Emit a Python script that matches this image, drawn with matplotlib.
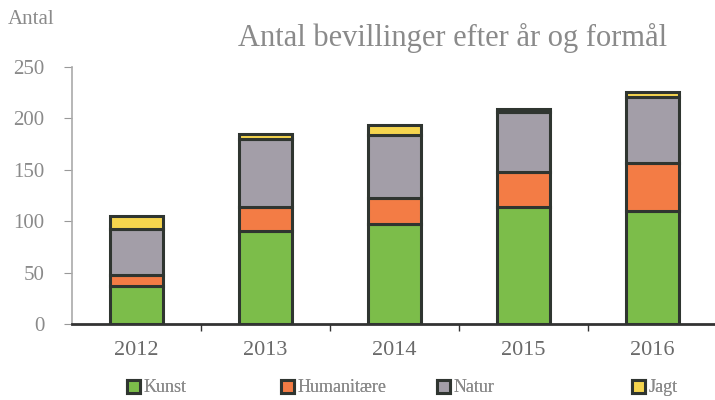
import matplotlib
matplotlib.use("Agg")
import matplotlib.pyplot as plt
import numpy as np

years = ["2012", "2013", "2014", "2015", "2016"]
kunst = [37, 90, 97, 114, 110]
humanitaere = [11, 24, 26, 34, 47]
natur = [44, 66, 61, 58, 64]
jagt = [13, 5, 10, 3, 5]
series_names = ["Kunst", "Humanitære", "Natur", "Jagt"]
colors = ["#7cbd4a", "#f37c45", "#a39ea8", "#f5d54e"]
yticks = [0, 50, 100, 150, 200, 250]

plt.rcParams['font.family'] = ['Liberation Serif', 'DejaVu Serif']
fig = plt.figure(figsize=(7.15, 4.0), dpi=100)
ax = fig.add_axes([72/715, 1 - 324/400, 645/715, (324-67)/400])

x = np.arange(len(years))
bottom = np.zeros(len(years))
handles = []
for name, vals, c in zip(series_names, [kunst, humanitaere, natur, jagt], colors):
    h = ax.bar(x, vals, width=0.41, bottom=bottom, color=c, edgecolor="#2f3530",
               linewidth=2.2, label=name, zorder=3)
    bottom += np.array(vals)
    handles.append(h)

ax.set_xlim(-0.5, 4.5)
ax.set_ylim(0, 250)
ax.set_yticks(yticks)
ax.set_yticklabels([str(v) for v in yticks], color="#8a8a8a", fontsize=15)
ax.set_xticks(x)
ax.set_xticklabels(years, color="#6a6a6a", fontsize=16)
ax.tick_params(axis='x', length=0, pad=12)
ax.set_xticks(np.arange(0.5, 4.5, 1), minor=True)
ax.tick_params(axis='x', which='minor', length=5, color="#333333", width=1)
ax.tick_params(axis='y', length=6, color="#999999", pad=14)
for s in ["top", "right"]:
    ax.spines[s].set_visible(False)
ax.spines["left"].set_color("#aaaaaa")
ax.spines["left"].set_linewidth(1.2)
ax.spines["bottom"].set_color("#333333")
ax.spines["bottom"].set_linewidth(2)

fig.text(453/715, 1 - 38/400, "Antal bevillinger efter år og formål", ha="center", va="center",
         fontsize=22, color="#8a8a8a")
fig.text(8/715, 1 - 20/400, "Antal", ha="left", va="center", fontsize=15, color="#8a8a8a")

leg_x = [127, 281, 437, 632]
for hd, name, lx in zip(handles, series_names, leg_x):
    lg = fig.legend([hd], [name], loc="center left", bbox_to_anchor=(lx/715, 1 - 388/400),
                    frameon=False, fontsize=13, labelcolor="#8a8a8a", borderaxespad=0,
                    borderpad=0, handlelength=0.7, handleheight=0.7, handletextpad=0.2)
    fig.add_artist(lg)
fig.savefig("out.png", dpi=100)
